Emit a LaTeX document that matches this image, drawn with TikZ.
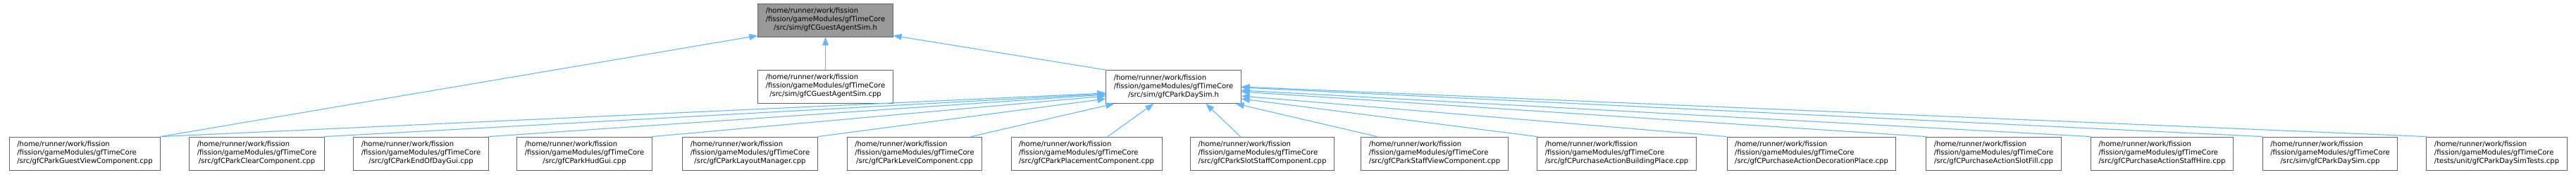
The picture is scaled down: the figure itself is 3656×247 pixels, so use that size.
\documentclass[tikz,border=0pt]{standalone}
\usepackage{fontspec}
\setmainfont{DejaVu Sans}
\usetikzlibrary{arrows.meta, positioning, calc}

\definecolor{edgeblue}{HTML}{63B8FF}
\definecolor{boxline}{HTML}{666666}
\definecolor{rootfill}{HTML}{999999}

% doxygen-like label: two shared lines, last line centred
\newcommand{\dxlabel}[1]{%
  \begin{tabular}{@{}l@{}}
    /home/runner/work/fission\\
    /fission/gameModules/gfTimeCore\\
    \multicolumn{1}{@{}c@{}}{#1}
  \end{tabular}}

\tikzset{
  filebox/.style={draw=boxline, fill=white, line width=0.9pt,
    inner xsep=11pt, inner ysep=5.5pt,
    font=\fontsize{10}{12}\selectfont},
  rootbox/.style={filebox, fill=rootfill},
  incl/.style={draw=edgeblue, line width=1.1pt,
    -{Triangle[length=12pt,width=9pt]}}
}

\begin{document}
\begin{tikzpicture}[x=1pt, y=-1pt]
  \useasboundingbox (0,0) rectangle (3656,247);

  % upper part
  \node[rootbox] (agenth) at (1171.5,28.5) {\dxlabel{/src/sim/gfCGuestAgentSim.h}};
  \node[filebox] (agentcpp) at (1171.5,122.5) {\dxlabel{/src/sim/gfCGuestAgentSim.cpp}};
  \node[filebox] (daysimh) at (1665.5,123) {\dxlabel{/src/sim/gfCParkDaySim.h}};

  % bottom row
  \foreach \x/\nm/\txt in {
      120.5/b1/{/src/gfCParkGuestViewComponent.cpp},
      364.5/b2/{/src/gfCParkClearComponent.cpp},
      597.5/b3/{/src/gfCParkEndOfDayGui.cpp},
      829.5/b4/{/src/gfCParkHudGui.cpp},
      1064.5/b5/{/src/gfCParkLayoutManager.cpp},
      1298/b6/{/src/gfCParkLevelComponent.cpp},
      1542/b7/{/src/gfCParkPlacementComponent.cpp},
      1791.5/b8/{/src/gfCParkSlotStaffComponent.cpp},
      2036/b9/{/src/gfCParkStaffViewComponent.cpp},
      2294.5/b10/{/src/gfCPurchaseActionBuildingPlace.cpp},
      2571/b11/{/src/gfCPurchaseActionDecorationPlace.cpp},
      2829.5/b12/{/src/gfCPurchaseActionSlotFill.cpp},
      3068.5/b13/{/src/gfCPurchaseActionStaffHire.cpp},
      3307/b14/{/src/sim/gfCParkDaySim.cpp},
      3543.5/b15/{/tests/unit/gfCParkDaySimTests.cpp}}
    \node[filebox] (\nm) at (\x,217.5) {\dxlabel{\txt}};

  % includes of gfCGuestAgentSim.h
  \draw[incl] (b1.north east) -- ([yshift=2pt]agenth.south west);
  \draw[incl] (agentcpp) -- (agenth);
  \draw[incl] (daysimh.north west) -- ([yshift=2pt]agenth.south east);

  % includes of gfCParkDaySim.h
  \draw[incl] (b1.north east) -- ([yshift=-9pt]daysimh.west);
  \draw[incl] (b2.north east) -- ([yshift=-10pt]daysimh.west);
  \draw[incl] (b3.north east) -- ([yshift=-11pt]daysimh.west);
  \draw[incl] (b4.north east) -- ([yshift=-13pt]daysimh.west);
  \draw[incl] (b5.north east) -- ([yshift=-17pt]daysimh.west);
  \draw[incl] ([xshift=-16pt]b6.north east) -- ([xshift=12pt]daysimh.south west);
  \draw[incl] ([xshift=30pt]b7.north) -- ([xshift=68pt]daysimh.south west);
  \draw[incl] ([xshift=-31pt]b8.north) -- ([xshift=142pt]daysimh.south west);
  \draw[incl] ([xshift=23pt]b9.north west) -- ([xshift=-8pt]daysimh.south east);
  \draw[incl] (b10.north west) -- ([yshift=-17pt]daysimh.east);
  \draw[incl] (b11.north west) -- ([yshift=-13pt]daysimh.east);
  \draw[incl] (b12.north west) -- ([yshift=-7pt]daysimh.east);
  \draw[incl] (b13.north west) -- ([yshift=-5pt]daysimh.east);
  \draw[incl] (b14.north west) -- ([yshift=-1pt]daysimh.east);
  \draw[incl] (b15.north west) -- (daysimh.east);
\end{tikzpicture}
\end{document}
